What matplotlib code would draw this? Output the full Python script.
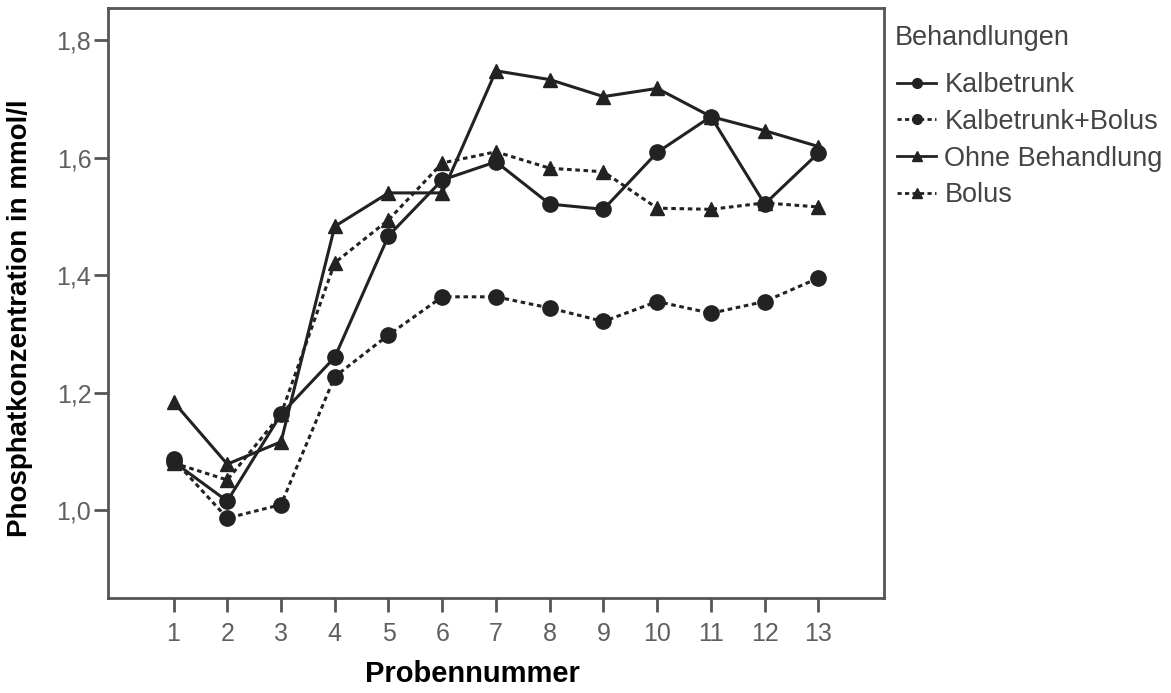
import matplotlib.pyplot as plt
from matplotlib.legend_handler import HandlerLine2D

plt.rcParams["font.family"] = ["Liberation Sans", "DejaVu Sans"]

# ---------------------------------------------------------------------------
# Data
# ---------------------------------------------------------------------------

proben = list(range(1, 14))

kalbetrunk = [1.082, 1.015, 1.163, 1.260, 1.467, 1.562, 1.593,
              1.521, 1.512, 1.609, 1.670, 1.521, 1.608]
kalbetrunk_bolus = [1.086, 0.986, 1.009, 1.227, 1.298, 1.363, 1.363,
                    1.344, 1.321, 1.355, 1.335, 1.355, 1.395]
ohne_behandlung = [1.184, 1.078, 1.116, 1.483, 1.540, 1.540, 1.748,
                   1.733, 1.704, 1.718, 1.670, 1.646, 1.619]
bolus = [1.080, 1.051, 1.163, 1.421, 1.494, 1.591, 1.610,
         1.582, 1.576, 1.514, 1.512, 1.523, 1.516]

series_labels = ["Kalbetrunk", "Kalbetrunk+Bolus", "Ohne Behandlung", "Bolus"]
y_ticks = [1.0, 1.2, 1.4, 1.6, 1.8]
y_tick_labels = ["1,0", "1,2", "1,4", "1,6", "1,8"]


class HandlerMarkerRight(HandlerLine2D):
    """Legend handle with the marker at the right end of the line."""

    def get_xdata(self, legend, xdescent, ydescent, width, height, fontsize):
        xdata = [-xdescent, width - xdescent]
        return xdata, [width - xdescent]


# ---------------------------------------------------------------------------
# Plot
# ---------------------------------------------------------------------------

fig = plt.figure(figsize=(11.71, 6.93), dpi=100)
ax = fig.add_axes([0.0922, 0.1371, 0.6627, 0.8514])

ink = "#222222"
grey = "#555555"
dotted = (0, (1.5, 1.2))

ax.plot(proben, kalbetrunk, color=ink, lw=2.2, ls="-", marker="o", ms=11,
        label=series_labels[0])
ax.plot(proben, kalbetrunk_bolus, color=ink, lw=2.2, ls=dotted, marker="o",
        ms=11, label=series_labels[1])
ax.plot(proben, ohne_behandlung, color=ink, lw=2.2, ls="-", marker="^", ms=10,
        label=series_labels[2])
ax.plot(proben, bolus, color=ink, lw=2.2, ls=dotted, marker="^", ms=10,
        label=series_labels[3])

ax.set_xlim(-0.22, 14.22)
ax.set_ylim(0.85, 1.855)
ax.set_xticks(proben)
ax.set_yticks(y_ticks)
ax.set_yticklabels(y_tick_labels)

for side in ax.spines.values():
    side.set_color(grey)
    side.set_linewidth(2)

ax.tick_params(axis="both", colors=grey, labelcolor="#606060",
               labelsize=18, width=2)
ax.tick_params(axis="x", length=10, pad=7)
ax.tick_params(axis="y", length=10, pad=2)

ax.set_xlabel("Probennummer", fontsize=21, fontweight="bold")
ax.xaxis.set_label_coords(0.470, -0.105)
ax.set_ylabel("Phosphatkonzentration in mmol/l", fontsize=20,
              fontweight="bold")
ax.yaxis.set_label_coords(-0.097, 0.475)

# legend title drawn on its own so the gap below it can match
fig.text(895 / 1171, 1 - 45 / 693, "Behandlungen", fontsize=19.5,
         color="#444444", ha="left", va="baseline")

leg = fig.legend(*ax.get_legend_handles_labels(), loc="upper left",
                 bbox_to_anchor=(897 / 1171, 1 - 72 / 693),
                 fontsize=19.5, frameon=False, handlelength=1.45,
                 handletextpad=0.3, labelspacing=0.4, borderpad=0.0,
                 borderaxespad=0.0,
                 handler_map={plt.Line2D: HandlerMarkerRight(numpoints=1)})
for txt in leg.get_texts():
    txt.set_color("#444444")
for h in leg.legend_handles:
    h.set_markersize(7)
    h.set_linewidth(2)

fig.savefig("out.png", dpi=100)
